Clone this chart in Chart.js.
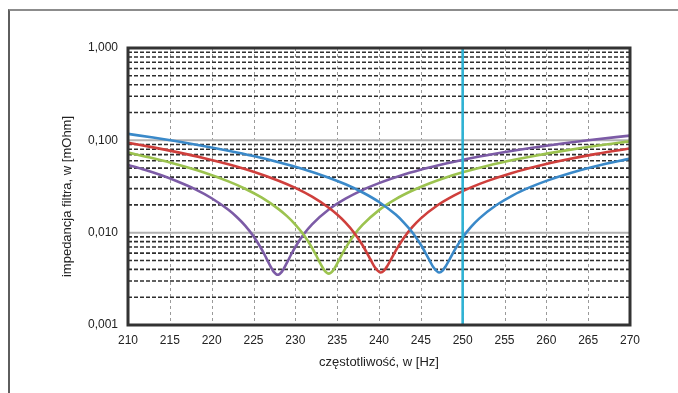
<!DOCTYPE html>
<html>
<head>
<meta charset="utf-8">
<script src="https://cdn.jsdelivr.net/npm/chart.js@4.4.1/dist/chart.umd.min.js"></script>
<style>
  html, body { margin: 0; padding: 0; background: #ffffff; }
  #wrap { position: relative; width: 678px; height: 393px; overflow: hidden; }
  #frame { position: absolute; left: 8px; top: 9px; width: 680px; height: 390px;
           border-top: 2px solid #8c8c8c; border-left: 2px solid #5e5e5e; box-sizing: border-box; }
  #c { position: absolute; left: 0; top: 0; }
</style>
</head>
<body>
<div id="wrap">
  <div id="frame"></div>
  <canvas id="c" width="678" height="393"></canvas>
</div>
<script>
// ---- data ----
const xTicks = [210, 215, 220, 225, 230, 235, 240, 245, 250, 255, 260, 265, 270];
const yTickValues = [0.001, 0.01, 0.1, 1];
const yTickLabels = ['0,001', '0,010', '0,100', '1,000'];
const xTitle = 'częstotliwość, w [Hz]';
const yTitle = 'impedancja filtra, w [mOhm]';
const markerFreq = 250;

const blueFreq = [210, 213, 216, 219, 222, 225, 228, 231, 234, 236, 238, 240, 242, 243, 244, 245, 245.5, 246, 246.5, 247.2, 247.6, 248, 248.5, 249, 250, 251, 252, 254, 256, 258, 260, 263, 266, 270];
const blueZ    = [0.1175, 0.1071, 0.0970, 0.0870, 0.0772, 0.0676, 0.0580, 0.0487, 0.0394, 0.0334, 0.0274, 0.0215, 0.0157, 0.0128, 0.01005, 0.0074, 0.00617, 0.00509, 0.00422, 0.0037, 0.00388, 0.00437, 0.00527, 0.00639, 0.00889, 0.01154, 0.01428, 0.0198, 0.0254, 0.0309, 0.0364, 0.0446, 0.0527, 0.0634];

const redFreq = [210, 213, 216, 219, 222, 225, 228, 230, 232, 234, 235, 236, 237, 238, 238.5, 239, 239.5, 240.2, 240.6, 241, 241.5, 242, 243, 244, 245, 247, 249, 251, 253, 256, 259, 262, 266, 270];
const redZ    = [0.0939, 0.0839, 0.0741, 0.0645, 0.0550, 0.0457, 0.0365, 0.0305, 0.0245, 0.0186, 0.0157, 0.01283, 0.01005, 0.0074, 0.00617, 0.00509, 0.00422, 0.0037, 0.00388, 0.00437, 0.00527, 0.00639, 0.00889, 0.01154, 0.01428, 0.0198, 0.0253, 0.0309, 0.0364, 0.0446, 0.0527, 0.0607, 0.0713, 0.0817];

const greenFreq = [210, 213, 216, 219, 222, 224, 226, 228, 229, 230, 231, 232, 232.5, 233, 233.5, 234, 234.5, 235, 235.5, 236, 237, 238, 240, 242, 244, 246, 248, 250, 253, 256, 259, 262, 266, 270];
const greenZ    = [0.0736, 0.0639, 0.0544, 0.0451, 0.0359, 0.0299, 0.0239, 0.0180, 0.0151, 0.01224, 0.00947, 0.00685, 0.00566, 0.00462, 0.00388, 0.0036, 0.00388, 0.00462, 0.00564, 0.0068, 0.00936, 0.01205, 0.01755, 0.0231, 0.0286, 0.0341, 0.0396, 0.0451, 0.0532, 0.0612, 0.0691, 0.0769, 0.0873, 0.0975];

const purpleFreq = [210, 212, 214, 216, 218, 220, 222, 223, 224, 225, 226, 226.5, 227, 227.4, 227.9, 228.4, 229, 229.5, 230, 231, 232, 234, 236, 238, 240, 243, 246, 249, 252, 256, 260, 265, 270];
const purpleZ    = [0.0542, 0.0480, 0.0418, 0.0356, 0.0296, 0.0236, 0.0177, 0.0148, 0.01194, 0.00916, 0.00655, 0.00537, 0.00437, 0.00379, 0.0035, 0.00379, 0.00473, 0.0058, 0.0070, 0.00959, 0.0123, 0.0178, 0.0233, 0.0289, 0.0344, 0.0426, 0.0507, 0.0587, 0.0667, 0.0771, 0.0874, 0.1001, 0.1126];

const seriesColors = { blue: '#3a89c9', red: '#cf3f3c', green: '#9cc34f', purple: '#7c5ba6', marker: '#2fb2d4' };

function pts(xs, ys) { return xs.map((x, i) => ({ x: x, y: ys[i] })); }

const tickFont = { family: 'Liberation Sans, Arial, sans-serif', size: 12 };
const titleFont = { family: 'Liberation Sans, Arial, sans-serif', size: 13 };

const gridPlugin = {
  id: 'customGrid',
  beforeDatasetsDraw(chart) {
    const { ctx, chartArea: a, scales } = chart;
    const xs = scales.x, ys = scales.y;
    ctx.save();
    ctx.beginPath();
    ctx.rect(a.left, a.top, a.right - a.left, a.bottom - a.top);
    ctx.clip();
    // vertical dashed grid
    ctx.strokeStyle = '#9a9a9a';
    ctx.lineWidth = 1;
    ctx.setLineDash([3, 3]);
    xTicks.forEach(v => {
      const px = Math.round(xs.getPixelForValue(v)) + 0.5;
      ctx.beginPath(); ctx.moveTo(px, a.top); ctx.lineTo(px, a.bottom); ctx.stroke();
    });
    // minor horizontal dashed grid
    ctx.strokeStyle = '#2e2e2e';
    ctx.lineWidth = 1.6;
    ctx.setLineDash([4, 2]);
    for (let e = -3; e < 0; e++) {
      for (let m = 2; m <= 9; m++) {
        const py = ys.getPixelForValue(m * Math.pow(10, e));
        ctx.beginPath(); ctx.moveTo(a.left, py); ctx.lineTo(a.right, py); ctx.stroke();
      }
    }
    // major decade lines
    ctx.setLineDash([]);
    ctx.strokeStyle = '#b2b2b2';
    ctx.lineWidth = 2;
    yTickValues.forEach(v => {
      const py = ys.getPixelForValue(v);
      ctx.beginPath(); ctx.moveTo(a.left, py); ctx.lineTo(a.right, py); ctx.stroke();
    });
    ctx.restore();
  },
  afterDatasetsDraw(chart) {
    const { ctx, chartArea: a } = chart;
    ctx.save();
    ctx.strokeStyle = '#333333';
    ctx.lineWidth = 3;
    ctx.strokeRect(a.left, a.top, a.right - a.left, a.bottom - a.top);
    ctx.restore();
  },
  afterDraw(chart) {
    // vertical axis title, placed as in the reference (slightly below the plot centre)
    const { ctx, chartArea: a } = chart;
    ctx.save();
    ctx.translate(a.left - 61, (a.top + a.bottom) / 2 + 10);
    ctx.rotate(-Math.PI / 2);
    ctx.font = titleFont.size + 'px ' + titleFont.family;
    ctx.fillStyle = '#222';
    ctx.textAlign = 'center';
    ctx.textBaseline = 'middle';
    ctx.fillText(yTitle, 0, 0);
    ctx.restore();
  }
};

const lineDs = (data, color) => ({
  data: data, borderColor: color, borderWidth: 2.6, pointRadius: 0,
  cubicInterpolationMode: 'monotone', fill: false, order: 1
});

new Chart(document.getElementById('c'), {
  type: 'line',
  data: {
    datasets: [
      lineDs(pts(blueFreq, blueZ), seriesColors.blue),
      lineDs(pts(redFreq, redZ), seriesColors.red),
      lineDs(pts(greenFreq, greenZ), seriesColors.green),
      lineDs(pts(purpleFreq, purpleZ), seriesColors.purple),
      { data: [{ x: markerFreq, y: yTickValues[0] }, { x: markerFreq, y: yTickValues[yTickValues.length - 1] }],
        borderColor: seriesColors.marker, borderWidth: 2.6, pointRadius: 0, tension: 0, order: 0 }
    ]
  },
  options: {
    responsive: false,
    animation: false,
    layout: { padding: { left: 55, right: 48, top: 48, bottom: 19 } },
    plugins: { legend: { display: false }, tooltip: { enabled: false } },
    scales: {
      x: {
        type: 'linear', min: 210, max: 270,
        grid: { display: false, drawTicks: false },
        border: { display: false },
        afterBuildTicks: s => { s.ticks = xTicks.map(v => ({ value: v })); },
        afterFit: s => { s.height = 49; },
        ticks: { padding: 8, color: '#222', font: tickFont, maxRotation: 0, autoSkip: false },
        title: { display: true, text: xTitle, color: '#222', font: titleFont, padding: { top: 2, bottom: 4 } }
      },
      y: {
        type: 'logarithmic', min: 0.001, max: 1,
        grid: { display: false, drawTicks: false },
        border: { display: false },
        afterBuildTicks: s => { s.ticks = yTickValues.map(v => ({ value: v })); },
        afterFit: s => { s.width = 73; },
        ticks: { padding: 10, color: '#222', font: tickFont,
                 autoSkip: false,
                 callback: (v) => { const i = yTickValues.findIndex(t => Math.abs(t - v) < 1e-9); return i >= 0 ? yTickLabels[i] : ''; } },
        title: { display: false }
      }
    }
  },
  plugins: [gridPlugin]
});
</script>
</body>
</html>
